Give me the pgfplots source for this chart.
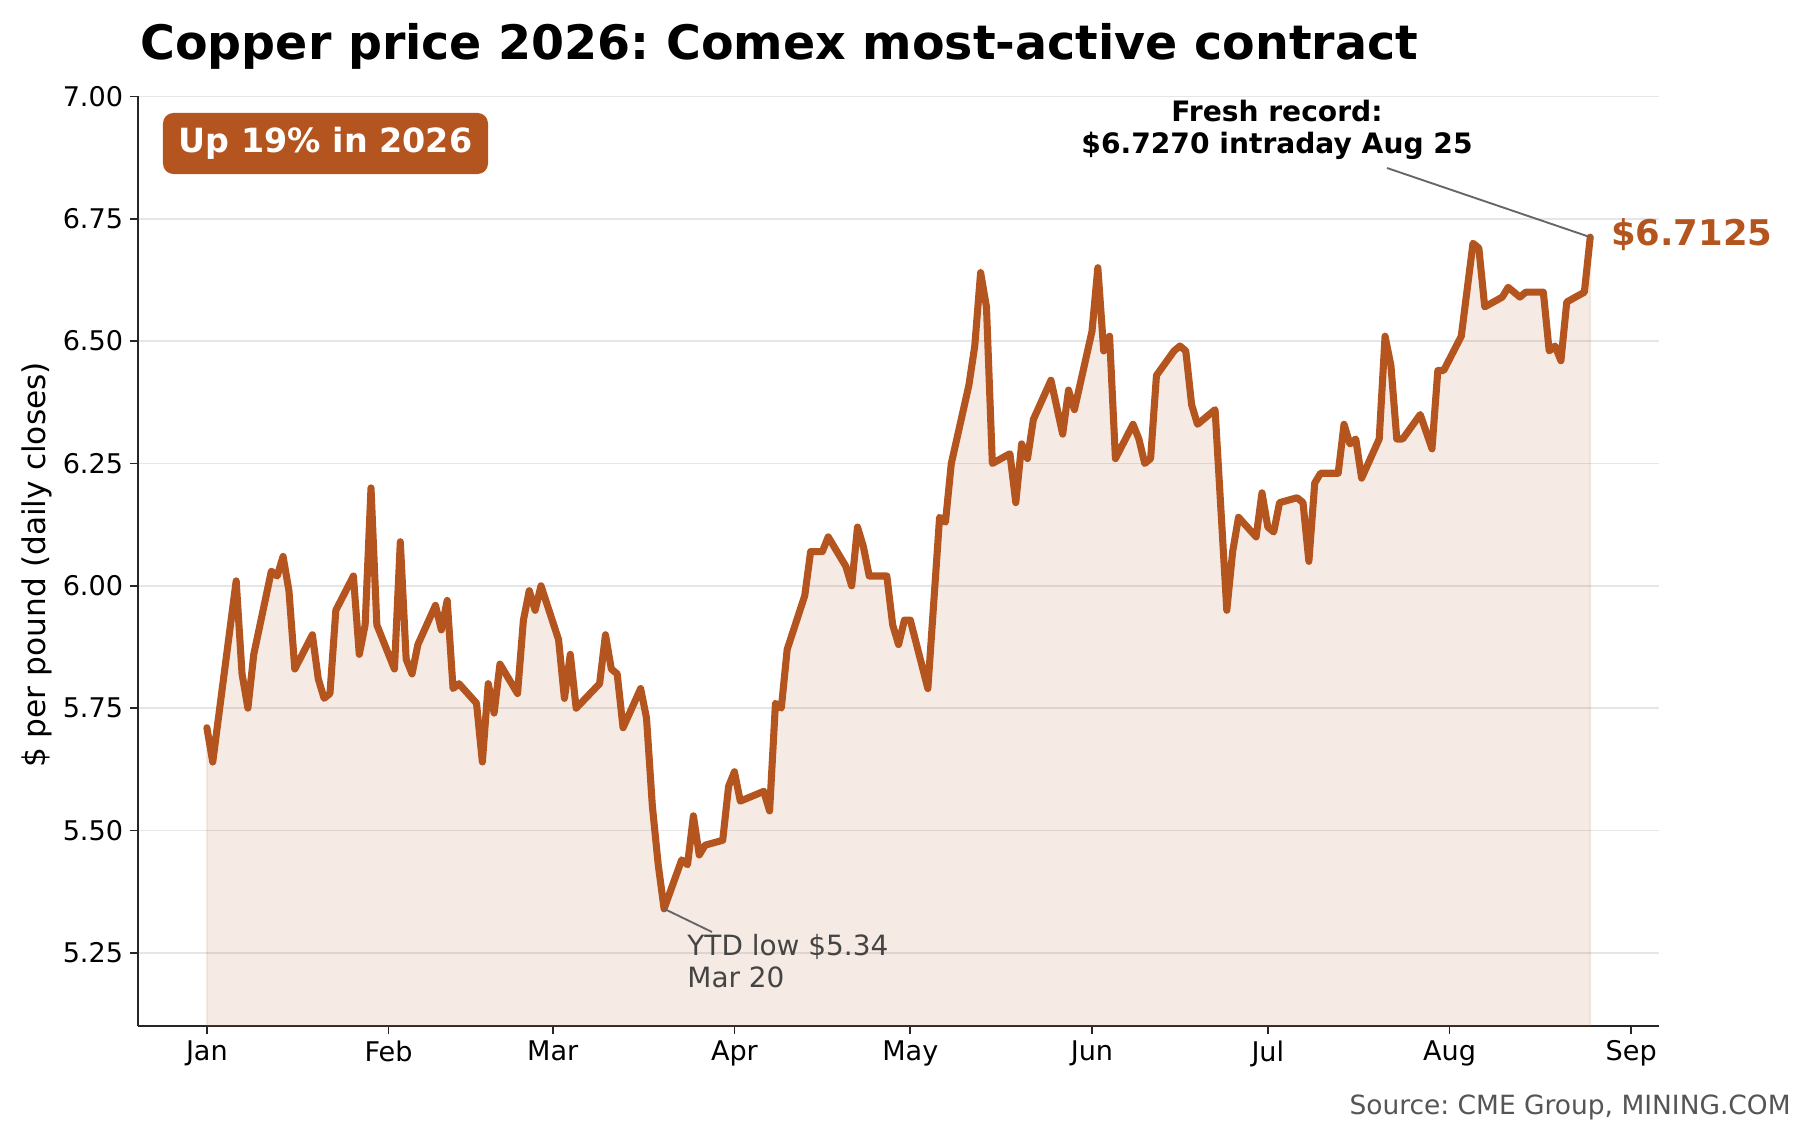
\documentclass[border=0pt]{standalone}
\usepackage{fontspec}
\setmainfont{DejaVu Sans}
\usepackage{pgfplots}
\usepackage{pgfplotstable}
\pgfplotsset{compat=1.18}
\definecolor{copper}{HTML}{B4541E}
\definecolor{gridc}{HTML}{E6E6E6}
\definecolor{annot}{HTML}{444444}
\definecolor{srcgray}{HTML}{555555}
\newcommand{\px}[2]{({#1*0.48pt},{(1125-#2)*0.48pt})}
\frenchspacing

\pgfplotstableread{
day price
0 5.71
1 5.64
5 6.01
6 5.82
7 5.75
8 5.86
11 6.03
12 6.02
13 6.06
14 5.99
15 5.83
18 5.90
19 5.81
20 5.77
21 5.78
22 5.95
25 6.02
26 5.86
27 5.92
28 6.20
29 5.92
32 5.83
33 6.09
34 5.85
35 5.82
36 5.88
39 5.96
40 5.91
41 5.97
42 5.79
43 5.80
46 5.76
47 5.64
48 5.80
49 5.74
50 5.84
53 5.78
54 5.93
55 5.99
56 5.95
57 6.00
60 5.89
61 5.77
62 5.86
63 5.75
67 5.80
68 5.90
69 5.83
70 5.82
71 5.71
74 5.79
75 5.73
76 5.55
77 5.43
78 5.34
81 5.44
82 5.43
83 5.53
84 5.45
85 5.47
88 5.48
89 5.59
90 5.62
91 5.56
95 5.58
96 5.54
97 5.76
98 5.75
99 5.87
102 5.98
103 6.07
105 6.07
106 6.10
109 6.04
110 6.00
111 6.12
112 6.08
113 6.02
116 6.02
117 5.92
118 5.88
119 5.93
120 5.93
123 5.79
125 6.14
126 6.13
127 6.25
130 6.41
131 6.49
132 6.64
133 6.57
134 6.25
137 6.27
138 6.17
139 6.29
140 6.26
141 6.34
144 6.42
146 6.31
147 6.40
148 6.36
151 6.52
152 6.65
153 6.48
154 6.51
155 6.26
158 6.33
159 6.30
160 6.25
161 6.26
162 6.43
165 6.48
166 6.49
167 6.48
168 6.37
169 6.33
172 6.36
174 5.95
175 6.07
176 6.14
179 6.10
180 6.19
181 6.12
182 6.11
183 6.17
186 6.18
187 6.17
188 6.05
189 6.21
190 6.23
193 6.23
194 6.33
195 6.29
196 6.30
197 6.22
200 6.30
201 6.51
202 6.45
203 6.30
204 6.30
207 6.35
209 6.28
210 6.44
211 6.44
214 6.51
216 6.70
217 6.69
218 6.57
221 6.59
222 6.61
224 6.59
225 6.60
228 6.60
229 6.48
230 6.49
231 6.46
232 6.58
235 6.60
236 6.7125
}\copperdata

\begin{document}
\begin{tikzpicture}
\path[use as bounding box] (0,0) rectangle (864pt,540pt);
\begin{axis}[
  at={(66.1pt,47.4pt)}, anchor=south west,
  scale only axis, width=730.4pt, height=446.3pt,
  xmin=-11.8, xmax=247.8, ymin=5.1, ymax=7.0,
  axis x line*=bottom, axis y line*=left,
  axis line style={black!85, line width=1pt},
  tick align=outside, major tick length=3.5pt,
  tick style={black!85, line width=0.8pt},
  xtick={0,31,59,90,120,151,181,212,243},
  xticklabels={Jan,Feb,Mar,Apr,May,Jun,Jul,Aug,Sep},
  ytick={5.25,5.5,5.75,6,6.25,6.5,6.75,7},
  /pgf/number format/assume math mode=true,
  yticklabel style={/pgf/number format/.cd, fixed, fixed zerofill, precision=2},
  ticklabel style={font=\fontsize{13}{15}\selectfont, text=black},
  ymajorgrids, grid style={gridc, line width=0.9pt},
  clip=false,
]
\addplot[draw=copper, draw opacity=0.12, line width=0.8pt, fill=copper, fill opacity=0.12]
  table[x=day, y=price] {\copperdata} -- (axis cs:236,5.1) -- (axis cs:0,5.1) -- cycle;
\addplot[copper, line width=3.4pt, line join=round, line cap=round]
  table[x=day, y=price] {\copperdata};
\coordinate (low) at (axis cs:78,5.34);
\coordinate (last) at (axis cs:236,6.7125);
\node[anchor=west, inner sep=0, text=copper, font=\fontsize{17}{20}\selectfont\bfseries, xshift=9.8pt, yshift=1pt]
  at (axis cs:236,6.7125) {\$6.7125};
\end{axis}
\draw[black!60, line width=0.9pt] (low) -- \px{712}{932};
\draw[black!60, line width=0.9pt] (last) -- \px{1387}{168};
\node[anchor=base west, inner sep=0, font=\fontsize{22.8}{27}\selectfont\bfseries] at \px{140}{60}
  {Copper price 2026: Comex most-active contract};
\node[fill=copper, rounded corners=5pt, minimum width=156pt, minimum height=29.3pt, inner sep=0,
  text=white, font=\fontsize{16}{19}\selectfont\bfseries] at \px{325.5}{143.5} {Up 19\% in 2026};
\node[align=center, inner sep=0, font=\fontsize{13.5}{15.4}\selectfont\bfseries] at \px{1277}{130}
  {Fresh record:\\\$6.7270 intraday Aug 25};
\node[align=left, anchor=west, inner sep=0, text=annot, font=\fontsize{13.4}{15.4}\selectfont] at \px{687}{961}
  {YTD low \$5.34\\Mar 20};
\node[rotate=90, inner sep=0, font=\fontsize{15}{18}\selectfont] at \px{37}{565}
  {\$ per pound (daily closes)};
\node[anchor=base east, inner sep=0, text=srcgray, font=\fontsize{12.7}{15}\selectfont] at \px{1791}{1115}
  {Source: CME Group, MINING.COM};
\end{tikzpicture}
\end{document}
